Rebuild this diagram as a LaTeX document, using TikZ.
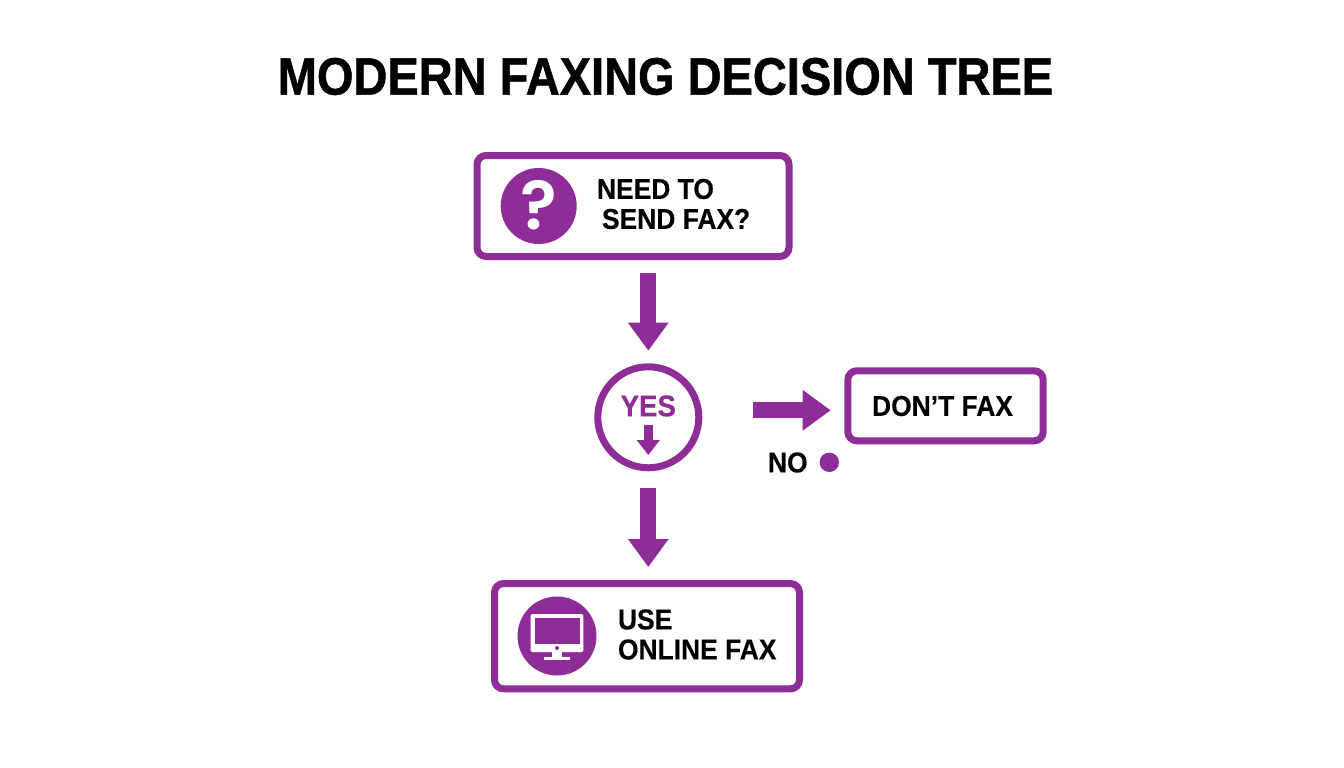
\documentclass[tikz,border=0pt]{standalone}
\usepackage{fontspec}
\setmainfont{Liberation Sans}
\newfontfamily\heavyface{Liberation Sans Bold}[FakeBold=1.0,FakeStretch=0.895]
\newfontfamily\labelface{Liberation Sans Bold}[FakeBold=0.35,FakeStretch=0.92]
\newfontfamily\qface{Poppins SemiBold}
\usetikzlibrary{arrows.meta}
\definecolor{fxpurple}{HTML}{8E2D98}
\tikzset{
  x=1pt,y=-1pt,
  framebox/.style={draw=fxpurple,line width=7pt,rounded corners=9pt,fill=white,inner sep=0pt},
  roundbadge/.style={circle,fill=fxpurple,inner sep=0pt},
  lbl/.style={inner sep=0pt,outer sep=0pt,text=black,font=\fontsize{28.7}{31}\labelface\selectfont,align=left,anchor=west},
  blockarrow/.style={draw=fxpurple,line width=16pt,-{Triangle[length=28pt,width=38.7pt,fill=fxpurple]}},
}
\begin{document}
\begin{tikzpicture}
\useasboundingbox (0,0) rectangle (1344,768);
\fill[white] (0,0) rectangle (1344,768);
\node[inner sep=0pt,font=\fontsize{52.5}{55}\heavyface\selectfont] (title) at (665.5,76.5) {MODERN FAXING DECISION TREE};

\node[framebox,minimum width=312pt,minimum height=101pt] (need) at (633,206) {};
\node[roundbadge,minimum size=76pt] (q) at (538.7,206) {};
\node[inner sep=0pt,text=white,font=\fontsize{68}{68}\qface\selectfont] (qm) at (538.7,205) {?};
\node[lbl] (needtxt) at (597,204) {NEED TO\\[-1pt]\hspace*{5pt}SEND FAX?};

\node[circle,draw=fxpurple,line width=7pt,fill=white,minimum size=101pt,inner sep=0pt] (yes) at (648.3,417.3) {};
\node[inner sep=0pt,text=fxpurple,font=\fontsize{30}{30}\labelface\selectfont] (yestxt) at (648.3,406) {YES};
\coordinate (yesa) at (648.3,424.7);
\coordinate (yesb) at (648.3,455);
\draw[draw=fxpurple,line width=8.4pt,-{Triangle[length=15pt,width=22.3pt,fill=fxpurple]}] (yesa) -- (yesb);

\node[framebox,minimum width=195.4pt,minimum height=70pt] (dont) at (945.5,405.8) {};
\node[lbl,anchor=center] (donttxt) at (942.5,406) {DON’T FAX};
\node[lbl,anchor=west] (notxt) at (768,462.5) {NO};
\node[circle,fill=fxpurple,minimum size=19.4pt,inner sep=0pt] (dot) at (829.3,462.3) {};

\node[framebox,minimum width=305pt,minimum height=105.3pt] (use) at (647,636.2) {};
\node[roundbadge,minimum size=79pt] (pc) at (557,636) {};
\node[lbl] (usetxt) at (618,634.5) {USE\\[-1pt]ONLINE FAX};

% monitor icon
\fill[white,rounded corners=1.5pt] (530.7,614) rectangle (583.3,652);
\fill[fxpurple] (534.7,617.7) rectangle (579.7,643.7);
\fill[fxpurple] (557,648) circle (2pt);
\fill[white] (551.7,652) rectangle (562.3,657);
\fill[white] (544.3,656.7) rectangle (570,660);

% connectors
\draw[blockarrow,shorten <=12.7pt,shorten >=12.6pt] (need.south -| yes.north) -- (yes.north);
\draw[blockarrow,shorten <=17pt,shorten >=13pt] (yes.south) -- (use.north -| yes.south);
\draw[blockarrow,shorten <=51pt,shorten >=13.6pt] (yes.east |- dont.west) ++(0,4.5) coordinate (noa) (noa) -- (noa -| dont.west);
\end{tikzpicture}
\end{document}
